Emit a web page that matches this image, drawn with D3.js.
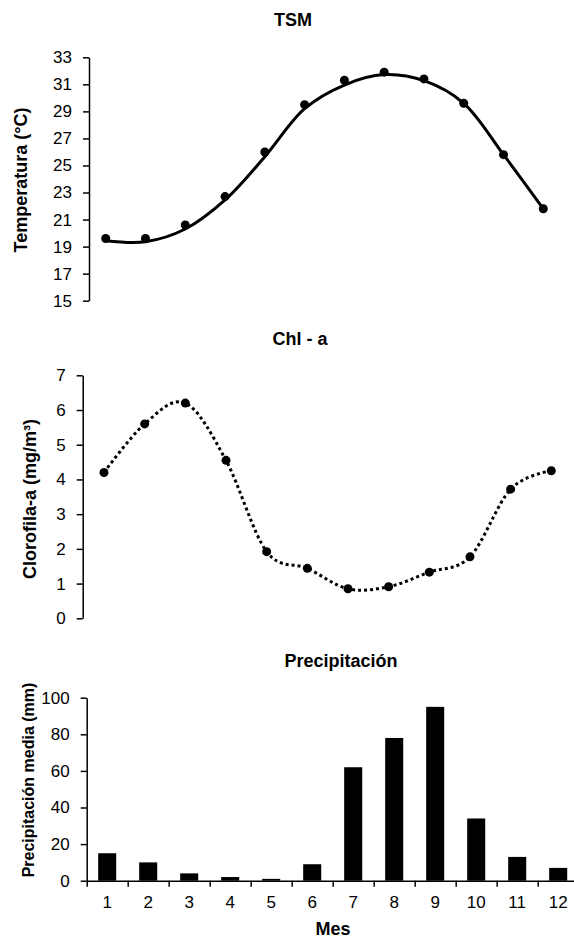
<!DOCTYPE html>
<html>
<head>
<meta charset="utf-8">
<script src="https://cdn.jsdelivr.net/npm/d3@7"></script>
<style>
  html, body { margin: 0; padding: 0; background: #fff; }
  svg { display: block; }
  text { font-family: "Liberation Sans", Arial, sans-serif; fill: #000; }
</style>
</head>
<body>
<svg id="chart" width="574" height="939"></svg>
<script>
// ---------------- data ----------------
const months = [1, 2, 3, 4, 5, 6, 7, 8, 9, 10, 11, 12];
const monthLabels = ["1", "2", "3", "4", "5", "6", "7", "8", "9", "10", "11", "12"];
const tsmValues = [19.6, 19.6, 20.6, 22.7, 26.0, 29.5, 31.3, 31.9, 31.4, 29.6, 25.8, 21.8];
// smoothed TSM trend curve at each month
const tsmTrend = [19.44, 19.36, 20.3, 22.45, 25.65, 29.2, 30.95, 31.72, 31.27, 29.6, 25.8, 21.8];
const chlValues = [4.2, 5.6, 6.2, 4.55, 1.92, 1.44, 0.85, 0.91, 1.33, 1.77, 3.72, 4.25];
const precipValues = [15, 10, 4, 2, 1, 9, 62, 78, 95, 34, 13, 7];
const tsmTicks = [15, 17, 19, 21, 23, 25, 27, 29, 31, 33];
const chlTicks = [0, 1, 2, 3, 4, 5, 6, 7];
const precipTicks = [0, 20, 40, 60, 80, 100];
const titles = ["TSM", "Chl - a", "Precipitación"];
const yTitles = ["Temperatura (°C)", "Clorofila-a (mg/m³)", "Precipitación media (mm)"];
const xTitle = "Mes";

const svg = d3.select("#chart");
const tickFont = "17px";
const fmt = d3.format("d");

function styleAxis(g) {
  g.selectAll("path.domain").attr("stroke", "#000").attr("stroke-width", 1.5);
  g.selectAll(".tick line").attr("stroke", "#000").attr("stroke-width", 1.5);
  g.selectAll(".tick text").style("font-size", tickFont).attr("fill", "#000")
    .style("font-family", '"Liberation Sans", Arial, sans-serif');
}

function title(txt, x, y) {
  svg.append("text").attr("x", x).attr("y", y).attr("text-anchor", "middle")
    .style("font-size", "18px").style("font-weight", "bold").text(txt);
}
function yTitle(txt, x, y, size) {
  svg.append("text").attr("transform", `translate(${x},${y}) rotate(-90)`)
    .attr("text-anchor", "middle").attr("dy", "0.35em")
    .style("font-size", size).style("font-weight", "bold").text(txt);
}

// ---------------- Chart 1: TSM ----------------
{
  const x = d3.scaleLinear().domain([1, 12]).range([105.7, 543.3]);
  const y = d3.scaleLinear().domain([15, 33]).range([300.7, 57.3]);
  const axisX = 89;
  svg.append("g").attr("transform", `translate(${axisX},0)`)
    .call(d3.axisLeft(y).tickValues(tsmTicks).tickFormat(fmt).tickSize(6).tickSizeOuter(0).tickPadding(11))
    .call(styleAxis);
  svg.append("path").datum(months)
    .attr("d", d3.line().x(d => x(d)).y((d, i) => y(tsmTrend[i])).curve(d3.curveCatmullRom.alpha(0.5)))
    .attr("fill", "none").attr("stroke", "#000").attr("stroke-width", 3);
  svg.append("g").selectAll("circle").data(months).join("circle")
    .attr("cx", d => x(d)).attr("cy", (d, i) => y(tsmValues[i])).attr("r", 4.5).attr("fill", "#000");
  title(titles[0], 293, 26);
  yTitle(yTitles[0], 21, 180, "18px");
}

// ---------------- Chart 2: Chl-a ----------------
{
  const x = d3.scaleLinear().domain([1, 12]).range([104, 551.3]);
  const y = d3.scaleLinear().domain([0, 7]).range([618.3, 375.3]);
  const axisX = 82.7;
  svg.append("g").attr("transform", `translate(${axisX},0)`)
    .call(d3.axisLeft(y).tickValues(chlTicks).tickFormat(fmt).tickSize(6).tickSizeOuter(0).tickPadding(11))
    .call(styleAxis);
  svg.append("path").datum(months)
    .attr("d", d3.line().x(d => x(d)).y((d, i) => y(chlValues[i])).curve(d3.curveCatmullRom.alpha(0)))
    .attr("fill", "none").attr("stroke", "#000").attr("stroke-width", 3)
    .attr("stroke-dasharray", "3,3");
  svg.append("g").selectAll("circle").data(months).join("circle")
    .attr("cx", d => x(d)).attr("cy", (d, i) => y(chlValues[i])).attr("r", 4.5).attr("fill", "#000");
  title(titles[1], 300, 345);
  yTitle(yTitles[1], 30, 499, "18px");
}

// ---------------- Chart 3: Precipitación ----------------
{
  const x0 = 86.7, step = 41;
  const xb = d3.scaleBand().domain(months).range([x0, x0 + step * 12])
    .paddingInner(0.56).paddingOuter(0.28);
  const xl = d3.scaleLinear().domain([0.5, 12.5]).range([x0, x0 + step * 12]);
  const y = d3.scaleLinear().domain([0, 100]).range([880.7, 697.7]);
  svg.append("g").attr("transform", `translate(${x0},0)`)
    .call(d3.axisLeft(y).tickValues(precipTicks).tickFormat(fmt).tickSize(6).tickSizeOuter(0).tickPadding(11))
    .call(styleAxis);
  svg.append("g").selectAll("rect").data(months).join("rect")
    .attr("x", d => xb(d)).attr("width", xb.bandwidth())
    .attr("y", (d, i) => y(precipValues[i]))
    .attr("height", (d, i) => y(0) - y(precipValues[i]))
    .attr("fill", "#000");
  // boundary ticks + baseline
  svg.append("g").attr("transform", `translate(0,${y(0)})`)
    .call(d3.axisBottom(xl).tickValues(d3.range(0.5, 12.5, 1)).tickFormat("").tickSize(6).tickSizeOuter(0))
    .call(styleAxis);
  // category labels
  svg.append("g").attr("transform", `translate(0,${y(0)})`)
    .call(d3.axisBottom(xb).tickFormat((d, i) => monthLabels[i]).tickSize(0).tickPadding(15))
    .call(g => g.select("path.domain").remove())
    .call(styleAxis);
  title(titles[2], 341, 667);
  yTitle(yTitles[2], 28, 780, "16px");
  svg.append("text").attr("x", 333).attr("y", 935).attr("text-anchor", "middle")
    .style("font-size", "18px").style("font-weight", "bold").text(xTitle);
}
</script>
</body>
</html>
